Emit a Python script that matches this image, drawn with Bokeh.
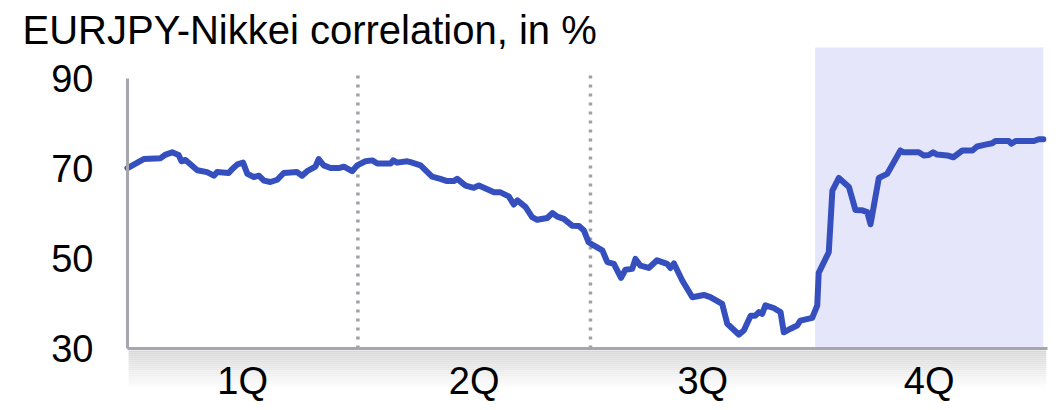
from bokeh.plotting import figure
from bokeh.models import Range1d, LinearAxis, FixedTicker, BoxAnnotation, Label
from bokeh.embed import file_html
from bokeh.resources import INLINE

# ---------------- data ----------------
title_text = "EURJPY-Nikkei correlation, in %"
quarters = ["1Q", "2Q", "3Q", "4Q"]
quarter_edges = [0, 64, 128.6, 191, 254.4]   # trading-day index of quarter boundaries
y_ticks = [30, 50, 70, 90]

day = [0.0, 4.5, 9.2, 10.6, 12.4, 14.2, 15.0, 16.1, 19.4, 22.1, 24.0, 24.9, 28.1, 29.1,
       30.5, 32.1, 33.3, 35.1, 36.5, 37.9, 39.7, 41.6, 43.4, 47.1, 48.5, 49.9, 52.2,
       53.1, 54.5, 56.4, 58.7, 60.1, 62.4, 63.8, 66.1, 68.0, 69.4, 73.1, 73.8, 74.9,
       77.7, 78.6, 81.4, 84.6, 86.9, 88.8, 90.6, 91.6, 93.9, 96.2, 97.6, 99.0, 101.8,
       103.6, 105.9, 107.3, 108.3, 110.6, 112.4, 113.8, 116.6, 118.0, 119.4, 121.2,
       123.5, 125.4, 126.8, 128.1, 129.5, 131.9, 133.3, 135.1, 137.1, 138.3, 140.2,
       141.1, 142.5, 144.8, 147.1, 149.9, 150.8, 151.8, 154.1, 156.9, 160.1, 161.9,
       165.2, 166.6, 169.8, 171.2, 173.1, 174.4, 175.4, 176.3, 177.2, 179.5, 181.4,
       182.3, 184.2, 186.0, 186.9, 190.2, 191.6, 192.0, 194.8, 195.8, 197.6, 200.4,
       202.2, 204.1, 205.5, 206.4, 208.7, 211.0, 214.7, 215.6, 219.8, 221.2, 222.6,
       223.8, 224.9, 227.7, 229.4, 231.9, 234.7, 236.0, 238.3, 240.2, 241.1, 244.8,
       245.5, 246.7, 251.8, 253.1, 254.4]
corr = [70.1, 72.1, 72.3, 73.1, 73.6, 73.0, 71.6, 71.9, 69.6, 69.2, 68.4, 69.2, 69.0, 69.9,
        70.9, 71.3, 68.8, 68.1, 68.4, 67.3, 67.0, 67.5, 69.0, 69.2, 68.4, 69.4, 70.4,
        72.1, 70.7, 70.1, 70.1, 70.4, 69.4, 70.7, 71.6, 71.8, 71.1, 71.1, 71.8, 71.3,
        71.6, 71.4, 70.7, 68.2, 67.7, 67.2, 67.2, 67.7, 66.2, 65.7, 66.2, 65.7, 64.7,
        64.7, 63.8, 62.0, 62.9, 61.4, 59.2, 58.6, 59.0, 60.1, 59.3, 58.8,
        57.3, 57.2, 56.2, 53.6, 52.9, 51.8, 49.2, 48.8, 45.7, 47.5, 47.7,
        49.9, 48.4, 47.9, 49.6, 48.8, 47.9, 48.9, 45.1, 41.4, 41.9, 41.4,
        39.9, 35.5, 33.1, 34.0, 37.3, 37.3, 38.1, 37.7, 39.6, 39.0, 38.1,
        33.6, 34.4, 35.1, 36.2, 36.8, 39.6, 46.8, 51.4, 65.1, 67.9, 65.9,
        60.8, 60.7, 60.3, 57.6, 67.9, 68.8, 74.0, 73.6, 73.6, 72.9, 73.0,
        73.6, 73.1, 72.9, 72.5, 74.0, 74.0, 74.9, 75.3, 75.6, 76.1, 76.1,
        75.5, 76.1, 76.1, 76.5, 76.5]

# ---------------- styles / layout ----------------
FONT = "Liberation Sans"
AXIS_GREY = "#A6A6AE"
DOT_GREY = "#A0A0A8"
LINE_BLUE = "#3550BE"
SHADE = "#E6E6FA"
W, H = 1060, 408
PX_PER_DAY, PX_PER_PCT = 3.6, 4.5
ORIGIN_X, ORIGIN_Y = 127, 348          # pixel position of (day 0, 30 %)

x0 = -ORIGIN_X / PX_PER_DAY
x1 = (W - ORIGIN_X) / PX_PER_DAY
y1 = 30 + ORIGIN_Y / PX_PER_PCT
y0 = 30 - (H - ORIGIN_Y) / PX_PER_PCT
x_axis_end = quarter_edges[-1] + 4 / PX_PER_DAY
shade_top = 30 + (ORIGIN_Y - 47) / PX_PER_PCT

p = figure(width=W, height=H, output_backend="svg", toolbar_location=None,
           x_range=Range1d(x0, x1), y_range=Range1d(y0, y1),
           x_axis_type=None, y_axis_type=None,
           min_border_left=0, min_border_right=0, min_border_top=0, min_border_bottom=0)
p.outline_line_color = None
p.background_fill_color = "white"
p.border_fill_color = "white"

# 4Q shading
p.add_layout(BoxAnnotation(left=quarter_edges[3], right=quarter_edges[4], bottom=30, top=shade_top,
                           fill_color=SHADE, fill_alpha=1.0, line_color=None, level="underlay"))

# gradient band below the x axis
n_strips = 20
band_depth = 40 / PX_PER_PCT
band_top = 30 - 2 / PX_PER_PCT
for i in range(n_strips):
    t = i / (n_strips - 1)
    c = int(round(216 + (255 - 216) * t))
    top = band_top - band_depth * i / n_strips
    bot = band_top - band_depth * (i + 1) / n_strips
    p.add_layout(BoxAnnotation(left=0.3, right=x_axis_end - 0.3, top=top, bottom=bot,
                               fill_color=(c, c, c), fill_alpha=1.0, line_color=None,
                               level="underlay"))

# dotted quarter separators (1Q|2Q, 2Q|3Q)
sep_x = quarter_edges[1:3]
p.segment(x0=sep_x, y0=[30] * len(sep_x), x1=sep_x, y1=[91] * len(sep_x),
          line_color=DOT_GREY, line_width=3.5, line_dash="3 6")

# the correlation line
p.line(day, corr, line_color=LINE_BLUE, line_width=6, line_join="round", line_cap="round")

# y axis
yax = LinearAxis(ticker=FixedTicker(ticks=y_ticks), bounds=(30, 90), fixed_location=0)
yax.axis_line_color = AXIS_GREY
yax.axis_line_width = 3
yax.major_tick_line_color = None
yax.minor_tick_line_color = None
yax.major_tick_out = 0
yax.major_tick_in = 0
yax.major_label_standoff = 34
yax.major_label_text_font = FONT
yax.major_label_text_font_size = "38px"
yax.major_label_text_color = "black"
p.add_layout(yax, "left")

# x axis with quarter labels centred in each quarter
mids = []
for a, b in zip(quarter_edges[:-1], quarter_edges[1:]):
    m = round((a + b) / 2, 1)
    mids.append(int(m) if m == int(m) else m)
xax = LinearAxis(ticker=FixedTicker(ticks=mids), bounds=(0, x_axis_end), fixed_location=30,
                 major_label_overrides={m: q for m, q in zip(mids, quarters)})
xax.axis_line_color = AXIS_GREY
xax.axis_line_width = 3
xax.major_tick_line_color = None
xax.minor_tick_line_color = None
xax.major_tick_out = 0
xax.major_tick_in = 0
xax.major_label_standoff = 11
xax.major_label_text_font = FONT
xax.major_label_text_font_size = "38px"
xax.major_label_text_color = "black"
p.add_layout(xax, "below")

# title
p.add_layout(Label(x=(22 - ORIGIN_X) / PX_PER_DAY, y=30 + (ORIGIN_Y - 29) / PX_PER_PCT,
                   text=title_text, text_font=FONT, text_font_size="40px",
                   text_color="black", text_align="left", text_baseline="alphabetic"))

open("out.html", "w").write(file_html(p, INLINE))
